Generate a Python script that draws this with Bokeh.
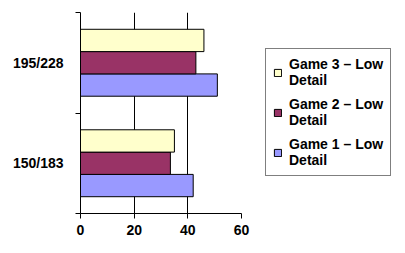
from bokeh.plotting import figure
from bokeh.models import ColumnDataSource, FixedTicker, Legend, LegendItem
from bokeh.embed import file_html
from bokeh.resources import INLINE

categories = ["150/183", "195/228"]
series_names = ["Game 1 \u2013 Low\nDetail", "Game 2 \u2013 Low\nDetail", "Game 3 \u2013 Low\nDetail"]
game1 = [42, 51]
game2 = [33.5, 43]
game3 = [35, 46]
colors = ["#9999FF", "#993366", "#FFFFCC"]
x_ticks = [0, 20, 40, 60]

FONT = "Liberation Sans"

p = figure(frame_width=161, frame_height=201, output_backend="svg", toolbar_location=None,
           x_range=(0, 60), y_range=(0, 2),
           min_border_left=80, min_border_right=164, min_border_top=12, min_border_bottom=40)
p.outline_line_color = None
p.background_fill_color = "white"
p.border_fill_color = "white"

bar_h = 0.222
offsets = [-bar_h, 0, bar_h]
renderers = []
for vals, off, col in zip([game1, game2, game3], offsets, colors):
    src = ColumnDataSource(dict(y=[i + 0.5 + off for i in range(len(categories))], right=vals))
    r = p.hbar(y="y", left=0, right="right", height=bar_h, source=src,
               fill_color=col, line_color="black", line_width=1)
    renderers.append(r)

# axes
p.xaxis.ticker = FixedTicker(ticks=x_ticks)
p.xaxis.major_tick_in = 0
p.xaxis.major_tick_out = 5
p.xaxis.minor_tick_out = 0
p.xaxis.minor_tick_in = 0
p.xaxis.axis_line_color = "black"
p.xaxis.major_label_text_font = FONT
p.xaxis.major_label_text_font_style = "bold"
p.xaxis.major_label_text_font_size = "14px"
p.xaxis.major_label_text_color = "black"
p.xaxis.major_label_standoff = 6

p.yaxis.ticker = FixedTicker(ticks=[i + 0.5 for i in range(len(categories))],
                             minor_ticks=list(range(len(categories) + 1)))
p.yaxis.major_label_overrides = {i + 0.5: c for i, c in enumerate(categories)}
p.yaxis.major_tick_in = 0
p.yaxis.major_tick_out = 0
p.yaxis.minor_tick_in = 0
p.yaxis.minor_tick_out = 5
p.yaxis.axis_line_color = "black"
p.yaxis.major_label_text_font = FONT
p.yaxis.major_label_text_font_style = "bold"
p.yaxis.major_label_text_font_size = "14px"
p.yaxis.major_label_text_color = "black"
p.yaxis.major_label_standoff = 12

p.ygrid.grid_line_color = None
p.xgrid.ticker = FixedTicker(ticks=x_ticks[1:])
p.xgrid.grid_line_color = "black"
p.xgrid.grid_line_width = 1

items = [LegendItem(label=series_names[i], renderers=[renderers[i]]) for i in [2, 1, 0]]
legend = Legend(items=items, location=(24, 37))
legend.label_text_font = FONT
legend.label_text_font_style = "bold"
legend.label_text_font_size = "14px"
legend.label_text_color = "black"
legend.label_text_line_height = 1.15
legend.glyph_width = 9
legend.glyph_height = 9
legend.spacing = 8
legend.padding = 7
legend.margin = 0
legend.label_standoff = 7
legend.border_line_color = "black"
legend.border_line_width = 1
legend.background_fill_color = "white"
legend.background_fill_alpha = 1
p.add_layout(legend, "right")

open("out.html", "w").write(file_html(p, INLINE))
